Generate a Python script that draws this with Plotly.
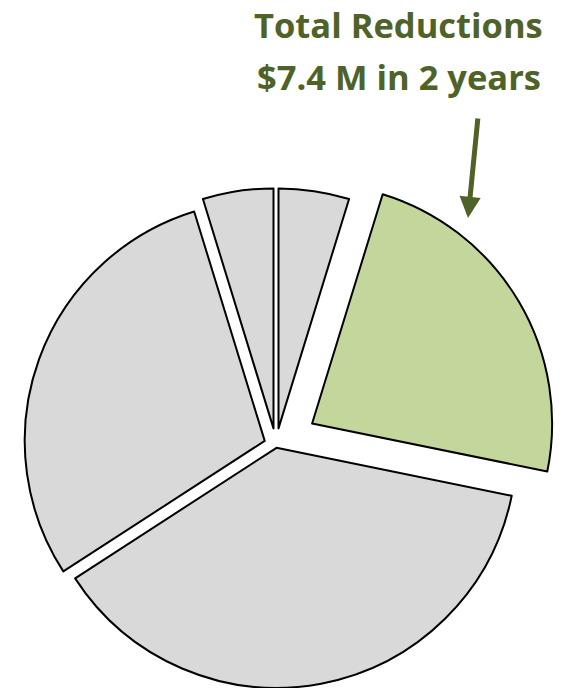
import math
import plotly.graph_objects as go

# ---- data ----
labels = ["Segment A", "Total Reductions", "Segment B", "Segment C", "Segment D"]
values = [4.75, 23.45, 37.65, 29.4, 4.75]
pulls = [0.07, 0.175, 0.012, 0.05, 0.07]
colors = ["#D9D9D9", "#C3D69B", "#D9D9D9", "#D9D9D9", "#D9D9D9"]
title_lines = ["Total Reductions", "$7.4 M in 2 years"]

# ---- layout geometry (figure pixels) ----
W, H = 564, 688
CX, CY = 276, 445   # pie centre in pixels
R = 240             # pie radius in pixels
TEXT_COLOR = "#4F6228"

fig = go.Figure()
total = sum(values)
cum = 0.0
for i, v in enumerate(values):
    mid = (cum + v / 2.0) / total * 2 * math.pi
    cum += v
    # emulate the slice "pull" by shifting this slice's own pie domain
    px = CX + pulls[i] * R * math.sin(mid)
    py = CY - pulls[i] * R * math.cos(mid)
    x0 = max(0.0, (px - R) / W)
    x1 = min(1.0, (px + R) / W)
    y0 = max(0.0, 1 - (py + R) / H)
    y1 = min(1.0, 1 - (py - R) / H)
    slice_colors = [colors[j] if j == i else "rgba(0,0,0,0)" for j in range(len(values))]
    widths = [2 if j == i else 0 for j in range(len(values))]
    fig.add_trace(go.Pie(
        labels=labels,
        values=values,
        sort=False,
        direction="clockwise",
        rotation=0,
        textinfo="none",
        hoverinfo="label+value",
        marker=dict(colors=slice_colors, line=dict(color="black", width=widths)),
        domain=dict(x=[x0, x1], y=[y0, y1]),
        showlegend=False,
    ))

fig.add_annotation(
    text="<b>%s</b>" % title_lines[0], x=398 / W, y=1 - 25 / H,
    xref="paper", yref="paper", xanchor="center", yanchor="middle",
    showarrow=False, font=dict(family="Open Sans", size=34.5, color=TEXT_COLOR),
)
fig.add_annotation(
    text="<b>%s</b>" % title_lines[1], x=399 / W, y=1 - 77 / H,
    xref="paper", yref="paper", xanchor="center", yanchor="middle",
    showarrow=False, font=dict(family="Open Sans", size=34.5, color=TEXT_COLOR),
)
fig.add_annotation(
    text="", x=468 / W, y=1 - 218 / H, xref="paper", yref="paper",
    showarrow=True, ax=10, ay=-101, arrowhead=2, arrowsize=0.85,
    arrowwidth=5, arrowcolor=TEXT_COLOR, standoff=0,
)

fig.update_layout(
    width=W, height=H, margin=dict(l=0, r=0, t=0, b=0),
    paper_bgcolor="white", plot_bgcolor="white",
)
fig.write_html(
    "out.html",
    config={"displayModeBar": False},
    post_script="document.body.style.margin='0';",
)
